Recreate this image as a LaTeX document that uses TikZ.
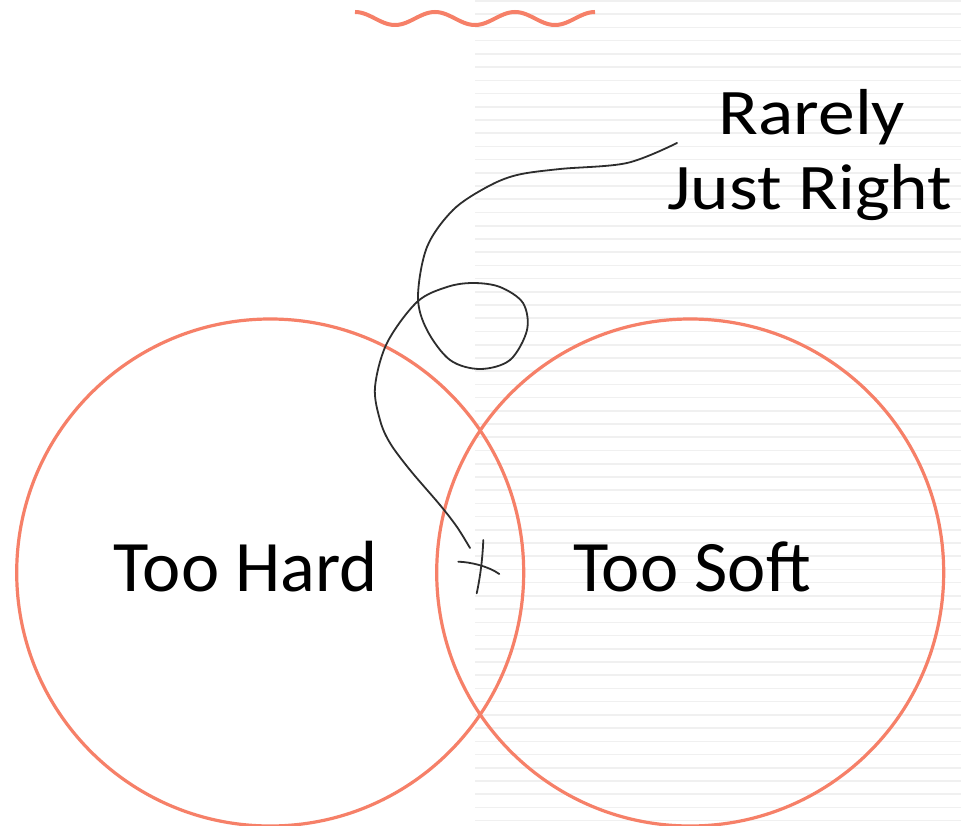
\documentclass[tikz,border=0pt]{standalone}
\usepackage{fontspec}
\setmainfont{Carlito}
\definecolor{salmon}{RGB}{246,128,104}
\definecolor{ink}{RGB}{45,45,45}
\definecolor{ruled}{RGB}{240,240,240}
\tikzset{
  venn/.style={draw=salmon, line width=3.2pt},
  squiggle/.style={draw=ink, line width=1.8pt, line cap=round},
  paperline/.style={draw=ruled, line width=1.6pt},
  bigtext/.style={inner sep=0pt, anchor=base, font=\fontsize{72.5}{86}\selectfont},
  notetext/.style={inner sep=0pt, anchor=base, xscale=1.13, font=\fontsize{65}{75}\selectfont},
}
\begin{document}
\begin{tikzpicture}[x=1pt,y=-1pt]
\useasboundingbox (0,0) rectangle (961,826);
\fill[white] (0,0) rectangle (961,826);
% lined paper on the right
\foreach \k in {0,...,62}{
  \draw[paperline] (475,1+13.22*\k) -- (961,1+13.22*\k);
}
% wavy line at top
\draw[draw=salmon, line width=4pt] plot[domain=355:595, samples=121, smooth] (\x,{18.5-6.5*cos(4.5*(\x-355))});
% circles
\node[venn, circle, minimum size=507pt, inner sep=0pt] (hardc) at (270.2,572.5) {};
\node[venn, circle, minimum size=507pt, inner sep=0pt] (softc) at (690.2,572.5) {};
% labels
\node[bigtext] (hard) at (246,591.7) {Too Hard};
\node[bigtext] (soft) at (692,591.7) {Too Soft};
\node[notetext] (rarely) at (812,135) {Rarely};
\node[notetext] (just) at (810,210) {Just Right};
% squiggle from label to the cross
\coordinate (curvestart) at (677,143);
\coordinate (curveend) at (470,548);
\draw[squiggle] plot[smooth, tension=0.55] coordinates {
 (curvestart) (627,163) (560,169) (517,175) (487,187) (453,210) (427,247)
 (418,297) (427,330) (450,360) (480,369) (510,360) (527,330) (523,303)
 (500,287) (473,283) (447,287) (417,302) (387,343) (375,387) (380,420)
 (390,443) (410,470) (440,505) (457,527) (curveend)};
% cross
\coordinate (crossa1) at (483.3,540);
\coordinate (crossa2) at (476.7,593.3);
\coordinate (crossb1) at (458.3,561.7);
\coordinate (crossb2) at (499.3,574);
\draw[squiggle] (crossa1) .. controls (482.5,560) and (480,578) .. (crossa2);
\draw[squiggle] (crossb1) .. controls (470,562) and (488,566) .. (crossb2);
\end{tikzpicture}
\end{document}
